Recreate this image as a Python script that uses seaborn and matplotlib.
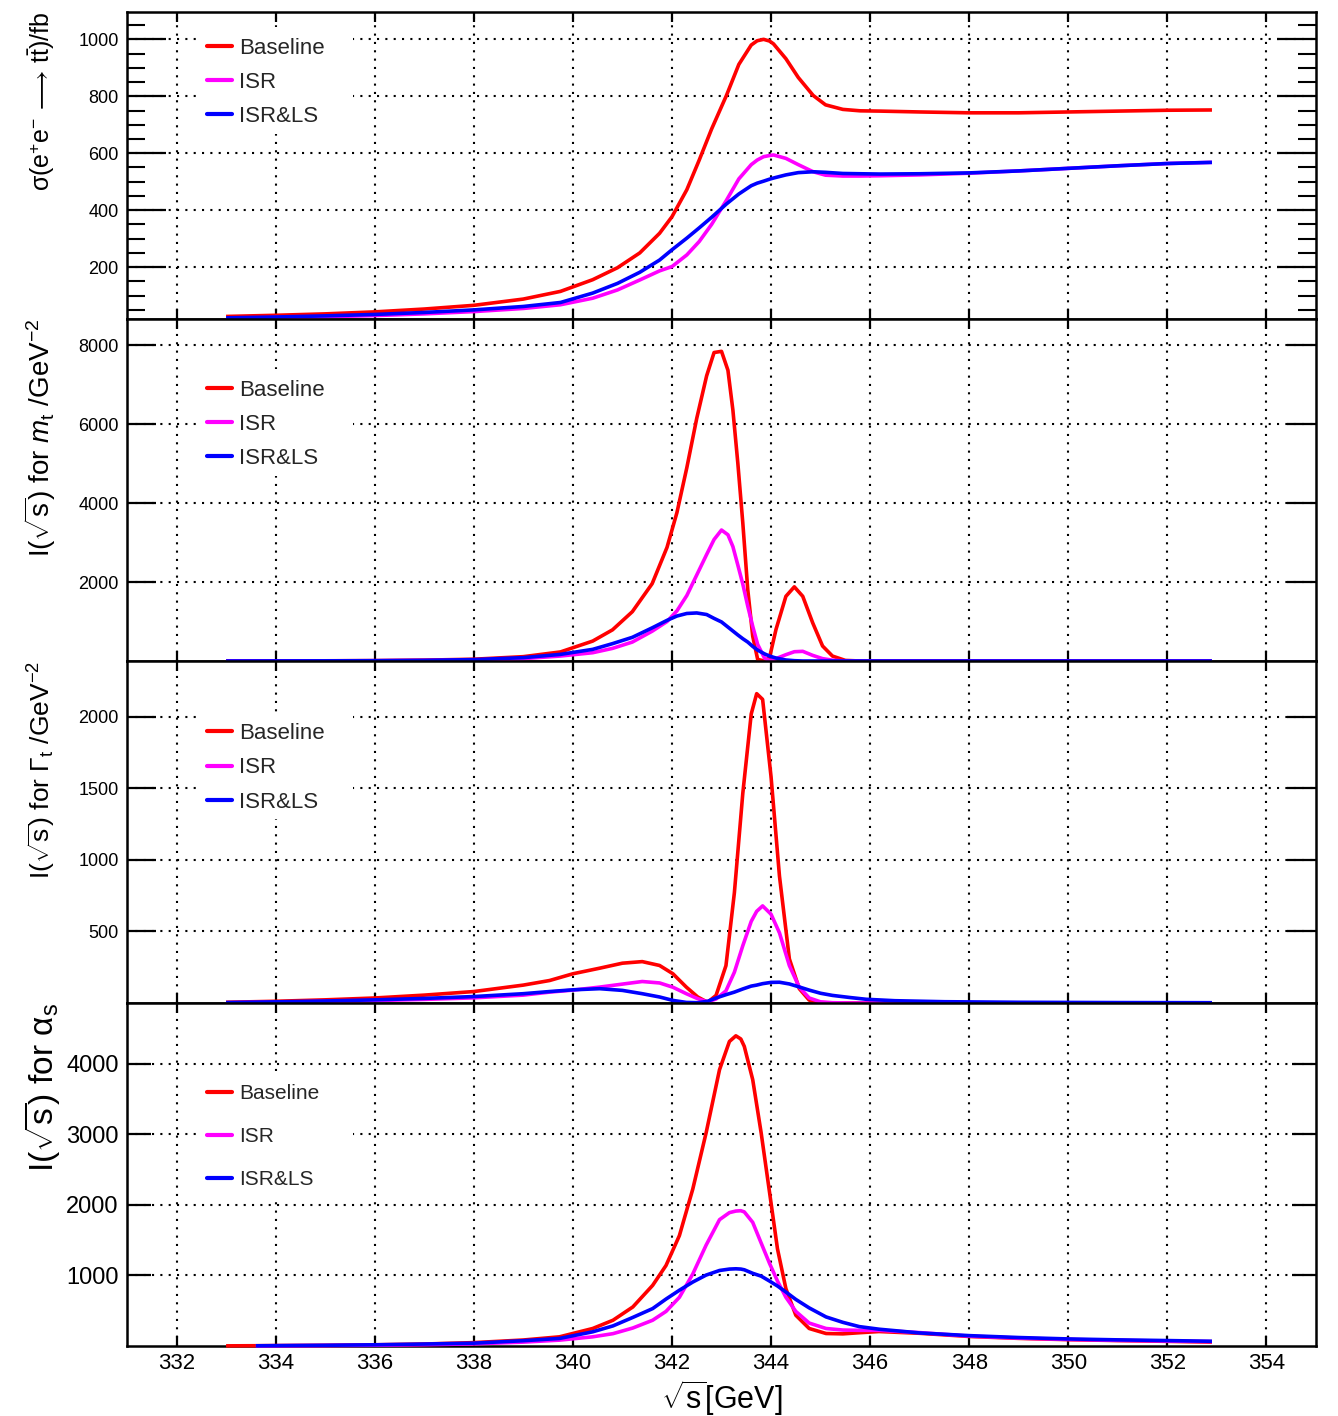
import numpy as np
import pandas as pd
import matplotlib
matplotlib.use("Agg")
import matplotlib.pyplot as plt
from matplotlib.lines import Line2D
from matplotlib.patches import Rectangle
from matplotlib.ticker import MultipleLocator, NullLocator
import seaborn as sns

# ---------------------------------------------------------
# data (sqrt(s) in GeV)
# ---------------------------------------------------------
series_names = ["Baseline", "ISR", "ISR&LS"]
series_colors = {"Baseline": "#ff0000", "ISR": "#ff00ff", "ISR&LS": "#0000ff"}

# panel 1: cross section / fb
sigma_x = [333, 334, 335, 336, 337, 338, 339, 339.75, 340.4, 340.9, 341.35, 341.75,
           342.0, 342.3, 342.55, 342.8, 343.1, 343.35, 343.6, 343.72, 343.85, 343.97,
           344.05, 344.3, 344.55, 344.85, 345.1, 345.45, 345.8, 346.2, 347, 348,
           349, 350, 351, 352, 352.9]
sigma_base = [27, 31, 36, 43, 53, 66, 88, 115, 156, 198, 250, 319,
              377, 472, 576, 685, 803, 912, 980, 995, 1000, 994,
              984, 932, 866, 803, 770, 754, 749, 748, 745, 742,
              742, 745, 748, 751, 752]
sigma_isr = [20, 23, 26, 30, 36, 44, 55, 68, 91, 120, 155, 187,
             202, 243, 290, 350, 435, 510, 560, 576, 588, 592,
             594, 582, 560, 535, 523, 520, 520, 521, 524, 530,
             538, 547, 556, 564, 568]
sigma_isrls = [22, 25, 29, 34, 41, 50, 62, 76, 109, 143, 182, 225,
               261, 302, 338, 375, 422, 457, 486, 495, 502, 509,
               513, 524, 532, 535, 533, 529, 528, 527, 528, 531,
               538, 547, 556, 564, 568]

# panel 2: I(sqrt s) for m_t
mt_x = [333, 334, 335, 336, 337, 338, 339, 339.75, 340.4, 340.8, 341.2, 341.6,
        341.9, 342.1, 342.3, 342.5, 342.7, 342.85, 343.0, 343.13, 343.23, 343.33,
        343.43, 343.53, 343.63, 343.73, 343.87, 343.97, 344.1, 344.3, 344.47, 344.64,
        344.84, 345.04, 345.24, 345.5, 345.8, 347, 349, 351, 352.9]
mt_base = [0, 2, 5, 10, 22, 45, 110, 230, 505, 790, 1250, 1960,
           2880, 3760, 4900, 6150, 7230, 7820, 7850, 7370, 6360, 5010,
           3500, 1810, 630, 40, 0, 90, 800, 1640, 1880, 1640,
           970, 380, 125, 15, 0, 0, 0, 0, 0]
mt_isr = [0, 1, 3, 6, 12, 25, 60, 126, 210, 320, 480, 755,
          1000, 1270, 1660, 2180, 2700, 3080, 3320, 3200, 2900, 2430,
          1950, 1390, 880, 420, 70, 10, 60, 160, 235, 245,
          143, 60, 20, 0, 0, 0, 0, 0, 0]
mt_isrls = [0, 2, 4, 8, 17, 35, 85, 168, 295, 440, 600, 840,
            1030, 1140, 1205, 1218, 1178, 1080, 990, 860, 760, 660,
            565, 480, 370, 275, 180, 125, 75, 25, 8, 0,
            0, 0, 0, 0, 0, 0, 0, 0, 0]

# panel 3: I(sqrt s) for Gamma_t
gt_x = [333, 334, 335, 336, 337, 338, 339, 339.53, 340.0, 340.54, 341.0, 341.4,
        341.75, 342.02, 342.29, 342.52, 342.72, 342.89, 343.09, 343.26, 343.43, 343.6,
        343.71, 343.83, 344.0, 344.17, 344.37, 344.57, 344.77, 345.0, 345.24, 345.6,
        345.92, 346.5, 347.5, 349, 351, 352.9]
gt_base = [5, 12, 22, 35, 55, 80, 125, 157, 204, 243, 278, 289,
           262, 204, 111, 42, 5, 53, 261, 770, 1464, 2018,
           2160, 2120, 1580, 886, 308, 100, 20, 3, 0, 0,
           0, 0, 0, 0, 0, 0]
gt_isr = [2, 6, 11, 17, 25, 36, 55, 76, 90, 111, 132, 150,
          140, 110, 65, 30, 8, 28, 85, 215, 400, 570,
          640, 678, 620, 490, 261, 110, 35, 8, 2, 0,
          0, 0, 0, 0, 0, 0]
gt_isrls = [3, 8, 14, 22, 32, 45, 65, 80, 92, 100, 88, 65,
            42, 18, 4, 2, 12, 35, 58, 76, 98, 118,
            125, 135, 144, 145, 133, 112, 90, 68, 53, 38,
            26, 16, 9, 5, 3, 2]

# panel 4: I(sqrt s) for alpha_s
as_x = [333, 333.6, 334, 335, 336, 337, 338, 339, 339.73, 340.4, 340.81, 341.21,
        341.61, 341.88, 342.15, 342.42, 342.69, 342.96, 343.16, 343.29, 343.39, 343.46,
        343.63, 343.8, 343.97, 344.13, 344.3, 344.5, 344.77, 345.11, 345.45, 345.78,
        346.18, 347, 348, 349, 350, 351, 352, 352.9]
as_base = [2, 4, 6, 10, 17, 28, 48, 85, 130, 248, 365, 553,
           859, 1141, 1564, 2223, 3022, 3915, 4315, 4395, 4350, 4245,
           3774, 3022, 2176, 1376, 812, 436, 248, 177, 172, 188,
           205, 180, 135, 108, 90, 77, 66, 55]
as_isr = [np.nan, 2, 3, 6, 11, 18, 30, 55, 83, 130, 175, 255,
          365, 490, 690, 1020, 1430, 1790, 1890, 1912, 1917, 1900,
          1752, 1460, 1170, 920, 690, 490, 325, 248, 226, 222,
          222, 190, 140, 112, 93, 80, 70, 63]
as_isrls = [np.nan, 3, 5, 10, 17, 28, 40, 75, 107, 201, 285, 405,
            530, 665, 790, 906, 1005, 1070, 1090, 1094, 1090, 1080,
            1030, 990, 920, 850, 765, 660, 540, 412, 335, 275,
            238, 185, 147, 120, 100, 87, 77, 67]

x_ticks = list(range(332, 356, 2))


def to_long(x, base, isr, isrls):
    parts = []
    for name, vals in zip(series_names, [base, isr, isrls]):
        parts.append(pd.DataFrame({"sqrt_s": x, "value": vals, "curve": name}))
    return pd.concat(parts, ignore_index=True).dropna()


# ---------------------------------------------------------
# style
# ---------------------------------------------------------
sns.set_theme(style="ticks")
plt.rcParams["font.family"] = ["Liberation Sans", "DejaVu Sans"]
plt.rcParams["mathtext.fontset"] = "custom"
plt.rcParams["mathtext.rm"] = "Liberation Sans"
plt.rcParams["mathtext.it"] = "Liberation Sans:italic"
plt.rcParams["mathtext.bf"] = "Liberation Sans:bold"
plt.rcParams["axes.linewidth"] = 1.8
plt.rcParams["axes.edgecolor"] = "black"

W, H = 1338, 1416
left_px, right_px = 127, 1316
panel_px = [(12, 319), (319, 661), (661, 1003), (1003, 1346)]

panels = [
    dict(df=to_long(sigma_x, sigma_base, sigma_isr, sigma_isrls),
         ylim=(18, 1096), yticks=[200, 400, 600, 800, 1000], minor=50,
         ylabel=r"σ(e$^{+}$e$^{-}$$\,\longrightarrow\,$t$\bar{\mathrm{t}}$)/fb",
         ylabel_fs=18, ylabel_x=57, tick_len=28, tick_fs=13,
         leg_rows=(46, 114), leg_fs=16, leg_space=0.6),
    dict(df=to_long(mt_x, mt_base, mt_isr, mt_isrls),
         ylim=(0, 8670), yticks=[2000, 4000, 6000, 8000], minor=None,
         ylabel=r"I($\sqrt{\mathrm{s}}$) for $m_{\mathrm{t}}$ /GeV$^{-2}$",
         ylabel_fs=20, ylabel_x=58, tick_len=21, tick_fs=13,
         leg_rows=(388, 456), leg_fs=16, leg_space=0.6),
    dict(df=to_long(gt_x, gt_base, gt_isr, gt_isrls),
         ylim=(0, 2388), yticks=[500, 1000, 1500, 2000], minor=None,
         ylabel=r"I($\sqrt{\mathrm{s}}$) for $\Gamma_{\mathrm{t}}$ /GeV$^{-2}$",
         ylabel_fs=19, ylabel_x=58, tick_len=21, tick_fs=13,
         leg_rows=(731, 799), leg_fs=16, leg_space=0.62),
    dict(df=to_long(as_x, as_base, as_isr, as_isrls),
         ylim=(0, 4860), yticks=[1000, 2000, 3000, 4000], minor=None,
         ylabel=r"I($\sqrt{\mathrm{s}}$) for $\mathrm{\alpha}_{\mathrm{s}}$",
         ylabel_fs=24, ylabel_x=62, tick_len=17, tick_fs=17,
         leg_rows=(1092, 1178), leg_fs=15, leg_space=1.15),
]

fig = plt.figure(figsize=(W / 100, H / 100), dpi=100)
handles = [Line2D([0], [0], color=series_colors[n], lw=3) for n in series_names]

for i, p in enumerate(panels):
    top, bot = panel_px[i]
    ax = fig.add_axes([left_px / W, 1 - bot / H, (right_px - left_px) / W, (bot - top) / H])
    ax.set_axisbelow(True)

    sns.lineplot(data=p["df"], x="sqrt_s", y="value", hue="curve",
                 hue_order=series_names, palette=series_colors,
                 estimator=None, sort=True, lw=2.6, legend=False, ax=ax)
    for ln in ax.lines:
        ln.set_clip_on(False)
        ln.set_zorder(3)
        ln.set_solid_joinstyle("round")
        ln.set_solid_capstyle("butt")

    ax.set_xlim(331, 355)
    ax.set_ylim(*p["ylim"])
    ax.set_xticks(x_ticks)
    ax.set_yticks(p["yticks"])
    ax.xaxis.set_minor_locator(NullLocator())
    if p["minor"]:
        ax.yaxis.set_minor_locator(MultipleLocator(p["minor"]))
    else:
        ax.yaxis.set_minor_locator(NullLocator())

    ax.grid(True, which="major", color="black", linestyle=(0, (1, 3)), linewidth=1.5)
    ax.tick_params(axis="y", which="major", direction="in", length=p["tick_len"],
                   width=1.6, left=True, right=True, labelsize=p["tick_fs"], pad=6,
                   color="black", labelcolor="black")
    ax.tick_params(axis="y", which="minor", direction="in", length=13,
                   width=1.5, left=True, right=True, color="black")
    ax.tick_params(axis="x", which="major", direction="in", length=7, width=1.6,
                   top=True, bottom=True, labelsize=16, pad=5,
                   labelbottom=(i == 3), color="black", labelcolor="black")
    for sp in ax.spines.values():
        sp.set_visible(True)
        sp.set_linewidth(1.8)
        sp.set_color("black")

    # y title, right-aligned to the top of the axis like ROOT does
    ax.set_ylabel(p["ylabel"], fontsize=p["ylabel_fs"], loc="top", color="black")
    ax.yaxis.set_label_coords((p["ylabel_x"] - left_px) / (right_px - left_px), 1.0)
    if i == 3:
        ax.set_xlabel(r"$\sqrt{\mathrm{s}}$[GeV]", fontsize=22, color="black")
        ax.xaxis.set_label_coords(0.5, -0.095)
    else:
        ax.set_xlabel("")

    # white legend box hiding the grid, then the legend itself
    ph = bot - top
    r0, r1 = p["leg_rows"]
    box_top = (r0 - 19 - top) / ph
    box_bot = (r1 + 20 - top) / ph
    ax.add_patch(Rectangle(((200 - left_px) / (right_px - left_px), 1 - box_bot),
                           153 / (right_px - left_px), box_bot - box_top,
                           transform=ax.transAxes, facecolor="white",
                           edgecolor="none", zorder=1))
    fs_px = p["leg_fs"] * 100 / 72
    leg_top = 1 - (r0 - 0.56 * fs_px + 4 - top) / ph
    ax.legend(handles, series_names, loc="upper left",
              bbox_to_anchor=((207 - left_px) / (right_px - left_px), leg_top),
              frameon=False, borderpad=0, borderaxespad=0,
              handlelength=25 / fs_px, handletextpad=7 / fs_px,
              labelspacing=p["leg_space"], fontsize=p["leg_fs"])

fig.savefig("out.png", dpi=100, facecolor="white")
